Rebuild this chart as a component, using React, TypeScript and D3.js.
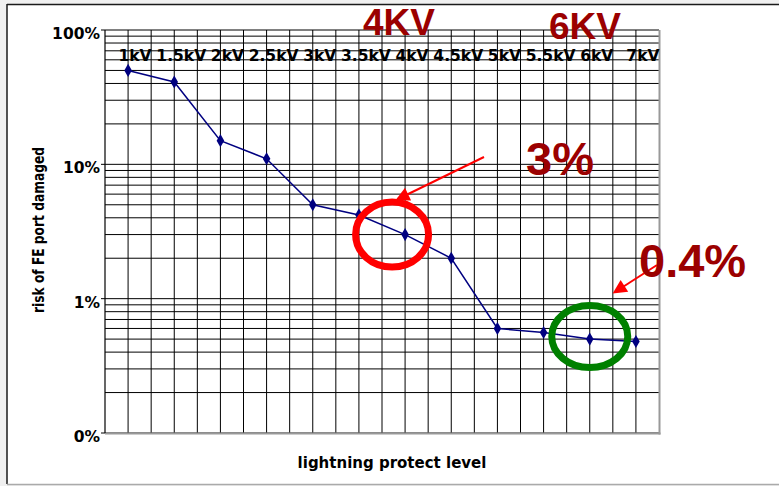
import React from 'react';
import * as d3 from 'd3';

const width = 779;
const height = 486;
const plot = {left: 105, right: 659, top: 30, bottom: 433};
const navy = '#000080';
const darkRed = '#9b0000';

const categories = ['1kV', '1.5kV', '2kV', '2.5kV', '3kV', '3.5kV', '4kV', '4.5kV', '5kV', '5.5kV', '6kV', '7kV'];
const risk = [0.5, 0.41, 0.15, 0.11, 0.05, 0.042, 0.03, 0.02, 0.006, 0.0056, 0.005, 0.0048];
const yTicks = [1, 0.1, 0.01, 0.001];
const yTickLabels = ['100%', '10%', '1%', '0%'];

const font = '"DejaVu Sans", Verdana, sans-serif';
const bigFont = '"Liberation Sans", Arial, sans-serif';

export default function App() {
    const x = d3.scaleBand<string>().domain(categories).range([plot.left, plot.right]);
    const y = d3.scaleLog().domain([0.001, 1]).range([plot.bottom, plot.top]);
    const bw = x.bandwidth();
    const cx = (c: string) => (x(c) as number) + bw / 2;

    // vertical grid: band edges and band centres
    const vLines: number[] = [];
    categories.forEach(c => {
        if (c !== categories[0]) vLines.push(x(c) as number);
        vLines.push(cx(c));
    });

    const line = d3.line<number>()
        .x((_, i) => cx(categories[i]))
        .y(d => y(d));

    const diamond = d3.symbol().type(d3.symbolDiamond).size(50)() as string;

    const red = categories.indexOf('4kV');
    const green = categories.indexOf('6kV');

    return (
        <svg width={width} height={height} style={{position: 'absolute', left: 0, top: 0}}>
            <defs>
                <marker id="arrow" viewBox="0 0 10 10" refX="8" refY="5" markerWidth="8" markerHeight="7"
                        orient="auto" markerUnits="strokeWidth">
                    <path d="M0,0 L10,5 L0,10 z" fill="#ff0000"/>
                </marker>
            </defs>
            <rect x={0} y={0} width={width} height={height} fill="#f0f0f0"/>
            <rect x={7} y={4} width={width} height={480} fill="#fff"/>
            <line x1={7} x2={width} y1={4.5} y2={4.5} stroke="#1a1a1a" strokeWidth={1.5}/>
            <line x1={7} x2={7} y1={4} y2={484} stroke="#1a1a1a" strokeWidth={1.5}/>
            <line x1={7} x2={width} y1={484.5} y2={484.5} stroke="#aaa" strokeWidth={1.5}/>

            {/* grid */}
            {y.ticks().map(t => (
                <line key={'h' + t} x1={plot.left} x2={plot.right} y1={y(t)} y2={y(t)} stroke="#000" strokeWidth={1}/>
            ))}
            {vLines.map(v => (
                <line key={'v' + v} x1={v} x2={v} y1={plot.top} y2={plot.bottom} stroke="#000" strokeWidth={1}/>
            ))}
            <line x1={plot.right + 0.5} x2={plot.right + 0.5} y1={plot.top} y2={plot.bottom + 1.5} stroke="#999" strokeWidth={2}/>
            <line x1={plot.left} x2={plot.right + 1.5} y1={plot.bottom + 0.5} y2={plot.bottom + 0.5} stroke="#999" strokeWidth={2}/>
            <line x1={plot.left} x2={plot.left} y1={plot.top} y2={plot.bottom} stroke="#000" strokeWidth={1.2}/>

            {/* y axis */}
            {yTicks.map((t, i) => (
                <g key={'yt' + t}>
                    <line x1={plot.left - 4} x2={plot.left} y1={y(t)} y2={y(t)} stroke="#000"/>
                    <text x={100} y={y(t) + 9} textAnchor="end" fontFamily={font} fontWeight="bold" fontSize={15.5}>
                        {yTickLabels[i]}
                    </text>
                </g>
            ))}

            {/* category labels along the top */}
            {categories.map(c => (
                <text key={'c' + c} x={cx(c) + 7} y={61} textAnchor="middle" fontFamily={font} fontWeight="bold"
                      fontSize={15.5}>{c}</text>
            ))}

            <path d={line(risk) as string} fill="none" stroke={navy} strokeWidth={1.5}/>
            {risk.map((d, i) => (
                <path key={'p' + i} d={diamond} transform={`translate(${cx(categories[i])},${y(d)})`} fill={navy}/>
            ))}

            <text x={392} y={468} textAnchor="middle" fontFamily={font} fontWeight="bold" fontSize={15}>
                lightning protect level
            </text>
            <text transform="translate(44,230) rotate(-90)" textAnchor="middle" fontFamily={font} fontWeight="bold"
                  fontSize={15} textLength={166} lengthAdjust="spacingAndGlyphs">
                risk of FE port damaged
            </text>

            {/* annotations */}
            <ellipse cx={cx(categories[red]) - 13} cy={y(risk[red])} rx={36.5} ry={32.5} fill="none" stroke="#ff0000"
                     strokeWidth={7}/>
            <ellipse cx={cx(categories[green])} cy={336.5} rx={38} ry={31} fill="none" stroke="#008000"
                     strokeWidth={7}/>
            <line x1={484} y1={157} x2={398} y2={199} stroke="#ff0000" strokeWidth={2} markerEnd="url(#arrow)"/>
            <line x1={657} y1={265} x2={615} y2={292} stroke="#ff0000" strokeWidth={2} markerEnd="url(#arrow)"/>

            <text x={363} y={35} fontFamily={bigFont} fontWeight="bold" fontSize={37} fill={darkRed}>4KV</text>
            <text x={549} y={39} fontFamily={bigFont} fontWeight="bold" fontSize={37} fill={darkRed}>6KV</text>
            <text x={526} y={175} fontFamily={bigFont} fontWeight="bold" fontSize={47} fill={darkRed}>3%</text>
            <text x={639} y={277} fontFamily={bigFont} fontWeight="bold" fontSize={47} fill={darkRed}>0.4%</text>
        </svg>
    );
}
